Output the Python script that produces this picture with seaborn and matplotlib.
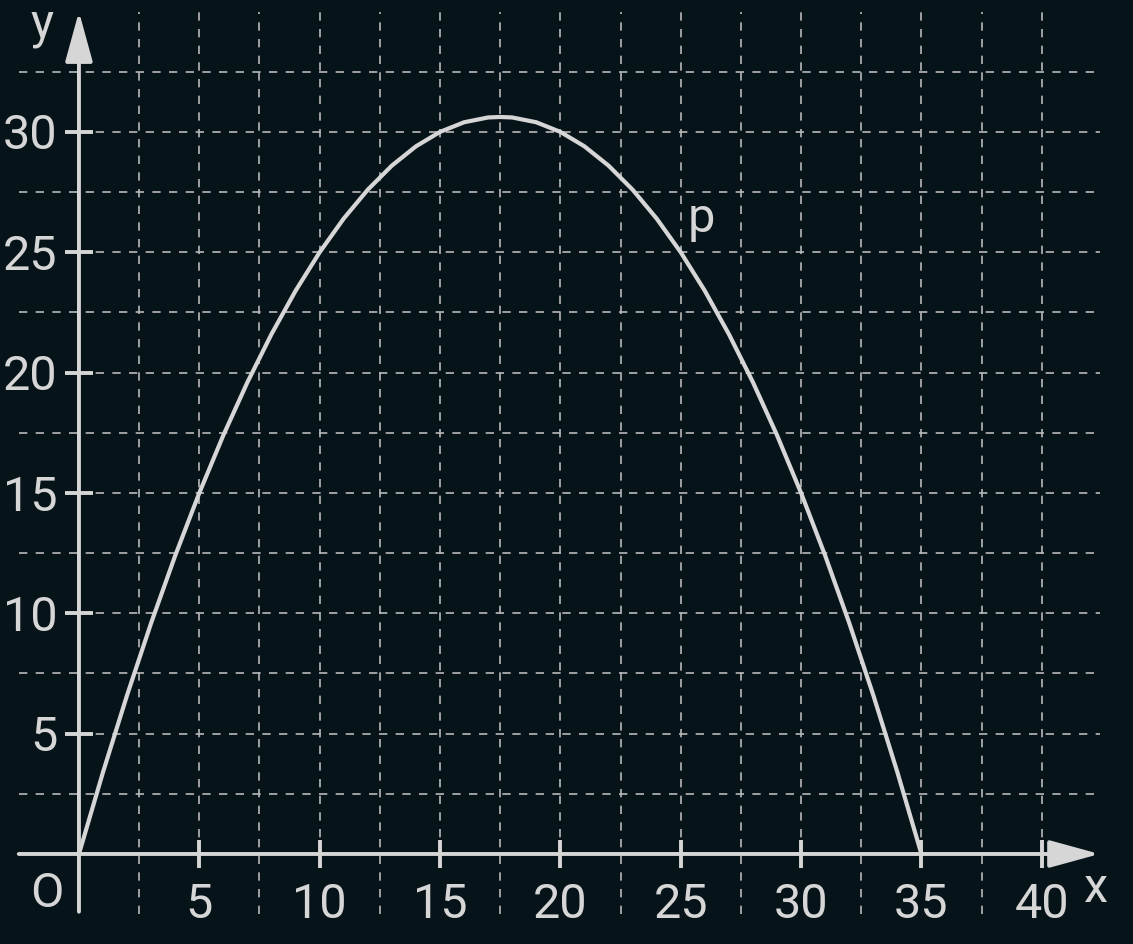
import numpy as np
import pandas as pd
import matplotlib
matplotlib.use("Agg")
import matplotlib.pyplot as plt
import seaborn as sns

# curve p (x step 1)
curve_x = [0, 1, 2, 3, 4, 5, 6, 7, 8, 9, 10, 11, 12, 13, 14, 15, 16, 17, 17.5,
           18, 19, 20, 21, 22, 23, 24, 25, 26, 27, 28, 29, 30, 31, 32, 33, 34, 35]
curve_y = [0, 3.4, 6.6, 9.6, 12.4, 15.0, 17.4, 19.6, 21.6, 23.4, 25.0, 26.4, 27.6,
           28.6, 29.4, 30.0, 30.4, 30.6, 30.62, 30.6, 30.4, 30.0, 29.4, 28.6, 27.6,
           26.4, 25.0, 23.4, 21.6, 19.6, 17.4, 15.0, 12.4, 9.6, 6.6, 3.4, 0]
x_ticks = [5, 10, 15, 20, 25, 30, 35, 40]
y_ticks = [5, 10, 15, 20, 25, 30]
grid_x = [2.5 * i for i in range(1, 17)]
grid_y = [2.5 * i for i in range(1, 14)]
curve_name = "p"

bg = "#061419"
fg = "#d6d6d6"
grid_col = "#b8b8b8"

sns.set_style("dark", rc={"axes.facecolor": bg, "figure.facecolor": bg})
plt.rcParams["font.family"] = ["Roboto", "DejaVu Sans"]

fig = plt.figure(figsize=(11.33, 9.44), dpi=100)
ax = fig.add_axes([0, 0, 1, 1])
ax.set_xlim(-3.28, 43.79)
ax.set_ylim(-3.74, 35.48)
ax.set_axis_off()
fig.patch.set_facecolor(bg)

# dashed grid: labelled lines stop at the axis, the others run past it
dash = (0, (5, 5))
for gx in grid_x:
    lo = 0 if gx in x_ticks else -2.5
    ax.vlines(gx, lo, 35.0, colors=grid_col, lw=1.2, linestyles=dash, zorder=1)
for gy in grid_y:
    lo = 0 if gy in y_ticks else -2.5
    ax.hlines(gy, lo, 42.4, colors=grid_col, lw=1.2, linestyles=dash, zorder=1)

# axes with arrows
arrow = dict(arrowstyle="-|>,head_length=3.1,head_width=0.85", lw=2.8, color=fg,
             shrinkA=0, shrinkB=0, mutation_scale=10)
ax.annotate("", xy=(42.4, 0), xytext=(-2.5, 0), arrowprops=arrow, zorder=3)
ax.annotate("", xy=(0, 35.0), xytext=(0, -2.4), arrowprops=arrow, zorder=3)

# tick marks
ax.vlines(x_ticks, -0.6, 0.6, colors=fg, lw=2.8, zorder=3)
ax.hlines(y_ticks, -0.6, 0.6, colors=fg, lw=2.8, zorder=3)

df = pd.DataFrame({"x": curve_x, "y": curve_y})
sns.lineplot(data=df, x="x", y="y", ax=ax, color=fg, lw=3.0, sort=False, zorder=4)

fs = 35
for v in x_ticks:
    ax.text(v, -2.66, str(v), color=fg, fontsize=fs, ha="center", va="baseline")
for v in y_ticks:
    ax.text(-0.9, v - 0.73, str(v), color=fg, fontsize=fs, ha="right", va="baseline")
ax.text(-1.33, -2.2, "O", color=fg, fontsize=fs, ha="center", va="baseline")
ax.text(42.25, -1.99, "x", color=fg, fontsize=fs, ha="center", va="baseline")
ax.text(-1.54, 33.94, "y", color=fg, fontsize=fs, ha="center", va="baseline")
ax.text(25.84, 25.84, curve_name, color=fg, fontsize=fs, ha="center", va="baseline")

fig.savefig("out.png", dpi=100, facecolor=bg)
